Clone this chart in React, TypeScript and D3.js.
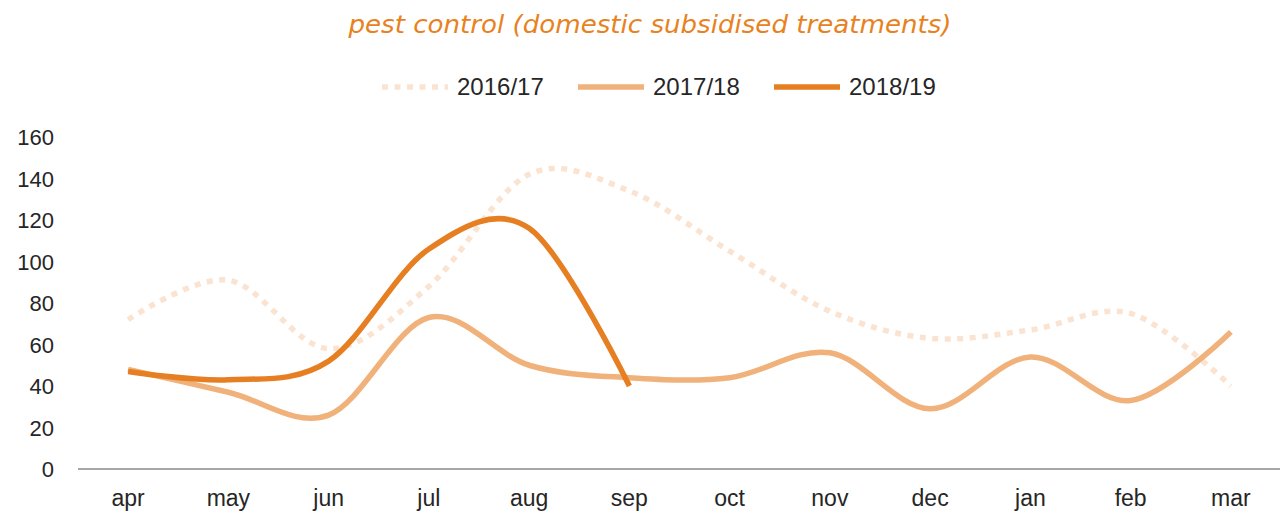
import React from "react";
import * as d3 from "d3";

const months = ["apr", "may", "jun", "jul", "aug", "sep", "oct", "nov", "dec", "jan", "feb", "mar"];
const s1617 = [72, 91, 58, 88, 142, 134, 105, 76, 63, 67, 75, 40];
const s1718 = [48, 37, 26, 73, 50, 44, 44, 56, 29, 54, 33, 66];
const s1819 = [47, 43, 52, 106, 116, 40];
const yTicks = [0, 20, 40, 60, 80, 100, 120, 140, 160];
const seriesNames = ["2016/17", "2017/18", "2018/19"];

const W = 1280;
const H = 511;

export default function App() {
  const x = d3.scaleBand<string>().domain(months).range([78, 1281]);
  const y = d3.scaleLinear().domain([0, 160]).range([469, 137]);
  const cx = (m: string) => (x(m) as number) + x.bandwidth() / 2;
  const line = d3
    .line<number>()
    .x((_, i) => cx(months[i]))
    .y((d) => y(d))
    .curve(d3.curveCatmullRom.alpha(0));

  const series = [
    { name: seriesNames[0], data: s1617, color: "#FBE3D1", dash: "6,6.5" },
    { name: seriesNames[1], data: s1718, color: "#F0B27A", dash: undefined },
    { name: seriesNames[2], data: s1819, color: "#E67E22", dash: undefined },
  ];
  const legendX = [382, 578, 774];
  const font = "'Liberation Sans', Arial, sans-serif";

  return (
    <svg width={W} height={H} style={{ position: "absolute", left: 0, top: 0 }}>
      <rect width={W} height={H} fill="#fff" />
      <text
        x={650}
        y={33}
        textAnchor="middle"
        fill="#E8821E"
        fontFamily="'DejaVu Sans', sans-serif"
        fontStyle="italic"
        fontWeight={300}
        fontSize={24}
        textLength={603}
        lengthAdjust="spacingAndGlyphs"
      >
        pest control (domestic subsidised treatments)
      </text>
      {series.map((s, i) => (
        <g key={s.name}>
          <line
            x1={legendX[i]}
            x2={legendX[i] + 66}
            y1={87}
            y2={87}
            stroke={s.color}
            strokeWidth={5.5}
            strokeDasharray={s.dash}
          />
          <text x={legendX[i] + 75} y={95} fontFamily={font} fontSize={24} fill="#262626">
            {s.name}
          </text>
        </g>
      ))}
      {yTicks.map((t) => (
        <text key={t} x={54} y={y(t) + 8} textAnchor="end" fontFamily={font} fontSize={22} fill="#262626">
          {t}
        </text>
      ))}
      <line x1={78} x2={1281} y1={y(0)} y2={y(0)} stroke="#A6A6A6" strokeWidth={2} />
      {months.map((m) => (
        <text key={m} x={cx(m)} y={506} textAnchor="middle" fontFamily={font} fontSize={23} fill="#262626">
          {m}
        </text>
      ))}
      {series.map((s) => (
        <path
          key={s.name}
          d={line(s.data) as string}
          fill="none"
          stroke={s.color}
          strokeWidth={5.5}
          strokeDasharray={s.dash}
          strokeLinejoin="round"
        />
      ))}
    </svg>
  );
}
